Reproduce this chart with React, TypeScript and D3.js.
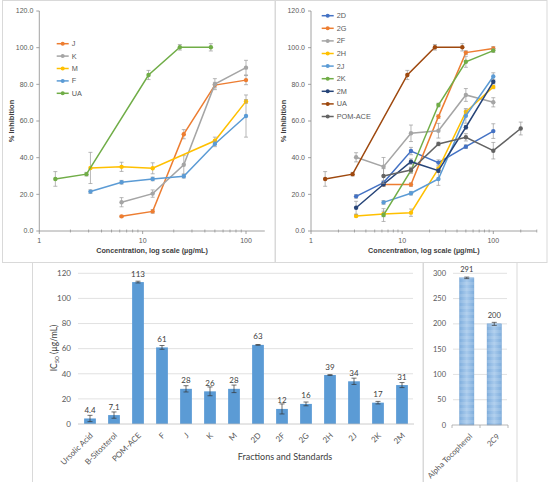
import React from "react";
import * as d3 from "d3";

// ---------- Top charts data ----------
const xUA = [1.43, 2.86, 11.4, 22.9, 45.7];
const yUA = [28.4, 31.0, 85.1, 100.2, 100.2];
const eUA = [4, 1, 2.5, 1.5, 2];

const xJ = [6.25, 12.5, 25, 50, 100];
const yJ = [8.0, 10.7, 52.8, 79.6, 82.3];
const eJ = [0.5, 1, 2.5, 1.5, 2.5];

const xK = [6.25, 12.5, 25, 50, 100];
const yK = [15.7, 20.4, 36.1, 80.1, 89.1];
const eK = [2.5, 2, 5, 3, 4];

const xM = [3.125, 6.25, 12.5, 50, 100];
const yM = [34.4, 35.0, 34.2, 49.2, 70.7];
const eM = [8.5, 2.5, 3, 2, 1];

const xF = [3.125, 6.25, 12.5, 25, 50, 100];
const yF = [21.5, 26.6, 28.4, 29.9, 47.5, 62.7];
const eF = [1, 1, 1, 1, 1.5, 11.5];

const x2D = [3.125, 6.25, 12.5, 25, 50, 100];
const y2D = [18.9, 26.4, 43.6, 37.3, 46.0, 54.5];
const e2D = [1, 1, 2, 1.5, 1, 4];

const x2G = [6.25, 12.5, 25, 50, 100];
const y2G = [25.3, 25.3, 62.4, 97.3, 99.6];
const e2G = [1, 1, 1, 1, 1];

const x2F = [3.125, 6.25, 12.5, 25, 50, 100];
const y2F = [40.2, 35.1, 53.3, 54.7, 74.2, 70.2];
const e2F = [2.5, 5, 4.5, 4, 3.5, 2.5];

const x2H = [3.125, 6.25, 12.5, 25, 50, 100];
const y2H = [8.2, 9.3, 10.0, 34.0, 65.0, 78.6];
const e2H = [0.5, 1.5, 2, 1, 1, 1];

const x2J = [6.25, 12.5, 25, 50, 100];
const y2J = [15.6, 20.6, 28.4, 62.8, 84.3];
const e2J = [1, 1, 3.5, 4, 2];

const x2K = [6.25, 12.5, 25, 50, 100];
const y2K = [8.7, 33.0, 68.7, 92.3, 98.4];
const e2K = [3.5, 1.5, 1, 3, 1];

const x2M = [3.125, 6.25, 12.5, 25, 50, 100];
const y2M = [12.7, 25.5, 37.8, 32.9, 56.6, 81.4];
const e2M = [3.5, 1, 1.5, 1, 1, 1];

const xPOM = [6.25, 12.5, 25, 50, 100, 200];
const yPOM = [30.0, 33.3, 47.5, 51.1, 43.8, 55.9];
const ePOM = [4, 1.5, 1, 2, 4.5, 3.5];

const yTicksLine = [0, 20, 40, 60, 80, 100, 120];
const xTicksLine = [1, 10, 100];

// ---------- Bottom charts data ----------
const barCats = ["Ursolic Acid", "B-Sitosterol", "POM-ACE", "F", "J", "K", "M", "2D", "2F", "2G", "2H", "2J", "2K", "2M"];
const barVals = [4.4, 7.1, 113, 61, 28, 26, 28, 63, 12, 16, 39, 34, 17, 31];
const barErrs = [2.5, 2.5, 0.7, 1.5, 2.5, 3.5, 3, 0.3, 4, 1.5, 0.3, 2.5, 1, 2];
const barLabels = ["4.4", "7.1", "113", "61", "28", "26", "28", "63", "12", "16", "39", "34", "17", "31"];
const barTicks = [0, 20, 40, 60, 80, 100, 120];

const stdCats = ["Alpha Tocopherol", "2C9"];
const stdVals = [291, 200];
const stdErrs = [1.5, 3];
const stdLabels = ["291", "200"];
const stdTicks = [0, 50, 100, 150, 200, 250, 300];

type Series = { name: string; color: string; xs: number[]; ys: number[]; es: number[] };

const leftSeries: Series[] = [
  { name: "J", color: "#ED7D31", xs: xJ, ys: yJ, es: eJ },
  { name: "K", color: "#A5A5A5", xs: xK, ys: yK, es: eK },
  { name: "M", color: "#FFC000", xs: xM, ys: yM, es: eM },
  { name: "F", color: "#5B9BD5", xs: xF, ys: yF, es: eF },
  { name: "UA", color: "#70AD47", xs: xUA, ys: yUA, es: eUA },
];

const rightSeries: Series[] = [
  { name: "2D", color: "#4472C4", xs: x2D, ys: y2D, es: e2D },
  { name: "2G", color: "#ED7D31", xs: x2G, ys: y2G, es: e2G },
  { name: "2F", color: "#A5A5A5", xs: x2F, ys: y2F, es: e2F },
  { name: "2H", color: "#FFC000", xs: x2H, ys: y2H, es: e2H },
  { name: "2J", color: "#5B9BD5", xs: x2J, ys: y2J, es: e2J },
  { name: "2K", color: "#70AD47", xs: x2K, ys: y2K, es: e2K },
  { name: "2M", color: "#264478", xs: x2M, ys: y2M, es: e2M },
  { name: "UA", color: "#9E480E", xs: xUA, ys: yUA, es: eUA },
  { name: "POM-ACE", color: "#636363", xs: xPOM, ys: yPOM, es: ePOM },
];

const AX = "#8C8C8C";
const TXT = "#595959";
const LINEFONT = "'Liberation Sans', Arial, sans-serif";
const BARFONT = "Lato, 'Open Sans', sans-serif";

function LinePanel({ series, xr, xEndVal, legendX, legendY, legendStep, ylabelX }: {
  series: Series[]; xr: [number, number]; xEndVal: number; legendX: number; legendY: number; legendStep: number; ylabelX: number;
}) {
  const x = d3.scaleLog().domain([1, 100]).range(xr);
  const y = d3.scaleLinear().domain([0, 120]).range([231, 11]);
  const xEnd = x(xEndVal);
  const minor: number[] = [];
  [1, 10, 100].forEach((d) => {
    for (let k = 2; k <= 9; k++) if (d * k <= xEndVal) minor.push(d * k);
  });
  const line = d3.line<[number, number]>().x((d) => x(d[0])).y((d) => y(d[1]));
  const cx = (xr[0] + xEnd) / 2;
  return (
    <g fontFamily={LINEFONT}>
      <line x1={xr[0]} x2={xr[0]} y1={y(120)} y2={y(0)} stroke={AX} strokeWidth={0.8} />
      <line x1={xr[0]} x2={xEnd} y1={y(0)} y2={y(0)} stroke={AX} strokeWidth={0.8} />
      {yTicksLine.map((t) => (
        <g key={t}>
          <line x1={xr[0] - 3} x2={xr[0]} y1={y(t)} y2={y(t)} stroke={AX} strokeWidth={0.8} />
          <text x={xr[0] - 6} y={y(t)} dy="0.35em" textAnchor="end" fontSize={7} fill={TXT}>{t.toFixed(1)}</text>
        </g>
      ))}
      {xTicksLine.map((t) => (
        <g key={t}>
          <line x1={x(t)} x2={x(t)} y1={y(0)} y2={y(0) + 3} stroke={AX} strokeWidth={0.8} />
          <text x={x(t)} y={243} textAnchor="middle" fontSize={7} fill={TXT}>{t}</text>
        </g>
      ))}
      {minor.map((t) => (
        <line key={"m" + t} x1={x(t)} x2={x(t)} y1={y(0) - 1.5} y2={y(0) + 1.5} stroke={AX} strokeWidth={0.7} />
      ))}
      <text x={cx} y={253} textAnchor="middle" fontSize={7.2} fontWeight="bold" fill="#404040">Concentration, log scale (µg/mL)</text>
      <text transform={`translate(${ylabelX},121) rotate(-90)`} textAnchor="middle" dy="0.35em" fontSize={7.5} fontWeight="bold" fill="#404040">% Inhibition</text>
      {series.map((s) => {
        const pts = s.xs.map((v, i) => [v, s.ys[i]] as [number, number]);
        return (
          <g key={s.name}>
            {pts.map((p, i) => (
              <g key={i} stroke="#9A9A9A" strokeWidth={0.7}>
                <line x1={x(p[0])} x2={x(p[0])} y1={y(p[1] - s.es[i])} y2={y(p[1] + s.es[i])} />
                <line x1={x(p[0]) - 2} x2={x(p[0]) + 2} y1={y(p[1] - s.es[i])} y2={y(p[1] - s.es[i])} />
                <line x1={x(p[0]) - 2} x2={x(p[0]) + 2} y1={y(p[1] + s.es[i])} y2={y(p[1] + s.es[i])} />
              </g>
            ))}
            <path d={line(pts) || ""} fill="none" stroke={s.color} strokeWidth={1.5} />
            {pts.map((p, i) => (
              <circle key={"c" + i} cx={x(p[0])} cy={y(p[1])} r={2.2} fill={s.color} />
            ))}
          </g>
        );
      })}
      {series.map((s, i) => {
        const ly = legendY + i * legendStep;
        return (
          <g key={"l" + s.name}>
            <line x1={legendX} x2={legendX + 12} y1={ly} y2={ly} stroke={s.color} strokeWidth={1.5} />
            <circle cx={legendX + 6} cy={ly} r={2} fill={s.color} />
            <text x={legendX + 15} y={ly} dy="0.35em" fontSize={7.3} fill={TXT}>{s.name}</text>
          </g>
        );
      })}
    </g>
  );
}

function BarPanel() {
  const x = d3.scaleBand<string>().domain(barCats).range([78, 414]).paddingInner(0.51).paddingOuter(0.255);
  const y = d3.scaleLinear().domain([0, 120]).range([424, 273.3]);
  return (
    <g fontFamily={BARFONT}>
      {barTicks.map((t) => (
        <g key={t}>
          {t > 0 && <line x1={78} x2={413} y1={y(t)} y2={y(t)} stroke="#D9D9D9" strokeWidth={0.8} />}
          <text x={71} y={y(t)} dy="0.35em" textAnchor="end" fontSize={8} fill={TXT}>{t}</text>
        </g>
      ))}
      {barCats.map((c, i) => {
        const bx = x(c) as number;
        const bw = x.bandwidth();
        const cxm = bx + bw / 2;
        const v = barVals[i];
        const e = barErrs[i];
        return (
          <g key={c}>
            <rect x={bx} y={y(v)} width={bw} height={y(0) - y(v)} fill="#5B9BD5" />
            <g stroke="#333" strokeWidth={0.7}>
              <line x1={cxm} x2={cxm} y1={y(v - e)} y2={y(v + e)} />
              <line x1={cxm - 2.5} x2={cxm + 2.5} y1={y(v - e)} y2={y(v - e)} />
              <line x1={cxm - 2.5} x2={cxm + 2.5} y1={y(v + e)} y2={y(v + e)} />
            </g>
            <text x={cxm} y={y(v) - 5.5} textAnchor="middle" fontSize={8} fill="#404040">{barLabels[i]}</text>
            <text transform={`translate(${cxm + 3.5},${436}) rotate(-45)`} textAnchor="end" fontSize={8} fill={TXT}>{c}</text>
          </g>
        );
      })}
      <line x1={78} x2={414} y1={y(0)} y2={y(0)} stroke="#BFBFBF" strokeWidth={0.8} />
      <text x={285} y={460} textAnchor="middle" fontSize={9} fill="#404040">Fractions and Standards</text>
      <text transform={`translate(54,348) rotate(-90)`} textAnchor="middle" dy="0.35em" fontSize={8.5} fill="#404040">
        IC<tspan fontSize={6} dy="2">50</tspan><tspan dy="-2"> (µg/mL)</tspan>
      </text>
    </g>
  );
}

function StdPanel() {
  const x = d3.scaleBand<string>().domain(stdCats).range([453, 508]).paddingInner(0.48).paddingOuter(0.24);
  const y = d3.scaleLinear().domain([0, 300]).range([425, 273.3]);
  return (
    <g fontFamily={BARFONT}>
      <defs>
        <linearGradient id="stdGrad" x1="0" x2="1" y1="0" y2="0">
          <stop offset="0" stopColor="#7FAEDD" />
          <stop offset="0.5" stopColor="#A8CAEC" />
          <stop offset="1" stopColor="#7FAEDD" />
        </linearGradient>
        <pattern id="stdStripe" width="4" height="6" patternUnits="userSpaceOnUse">
          <rect width="4" height="3" fill="#FFFFFF" fillOpacity={0.12} />
        </pattern>
      </defs>
      {stdTicks.map((t) => (
        <g key={t}>
          {t > 0 && <line x1={453} x2={507} y1={y(t)} y2={y(t)} stroke="#D9D9D9" strokeWidth={0.8} />}
          <text x={446} y={y(t)} dy="0.35em" textAnchor="end" fontSize={7.5} fill={TXT}>{t}</text>
        </g>
      ))}
      {stdCats.map((c, i) => {
        const bx = x(c) as number;
        const bw = x.bandwidth();
        const cxm = bx + bw / 2;
        const v = stdVals[i];
        const e = stdErrs[i];
        return (
          <g key={c}>
            <rect x={bx} y={y(v)} width={bw} height={y(0) - y(v)} fill="url(#stdGrad)" stroke="#6E9FD2" strokeWidth={0.5} />
            <rect x={bx} y={y(v)} width={bw} height={y(0) - y(v)} fill="url(#stdStripe)" />
            <g stroke="#333" strokeWidth={0.7}>
              <line x1={cxm} x2={cxm} y1={y(v - e)} y2={y(v + e)} />
              <line x1={cxm - 2.5} x2={cxm + 2.5} y1={y(v - e)} y2={y(v - e)} />
              <line x1={cxm - 2.5} x2={cxm + 2.5} y1={y(v + e)} y2={y(v + e)} />
            </g>
            <text x={cxm} y={y(v) - 5.5} textAnchor="middle" fontSize={7.5} fill="#404040">{stdLabels[i]}</text>
            <text transform={`translate(${cxm + 6},${437}) rotate(-45)`} textAnchor="end" fontSize={7.8} fill={TXT}>{c}</text>
          </g>
        );
      })}
      <line x1={452} x2={508} y1={y(0)} y2={y(0)} stroke="#A6A6A6" strokeWidth={0.8} />
      {[452, 480, 508].map((t) => (
        <line key={t} x1={t} x2={t} y1={y(0)} y2={y(0) + 3} stroke="#A6A6A6" strokeWidth={0.8} />
      ))}
    </g>
  );
}

export default function App() {
  return (
    <div style={{ position: "absolute", left: 0, top: 0, width: 550, height: 482, background: "#fff" }}>
      <svg width={550} height={482} viewBox="0 0 550 482" style={{ display: "block" }}>
        <rect x={0} y={0} width={550} height={482} fill="#fff" />
        <rect x={2.5} y={0.5} width={272.5} height={262} fill="none" stroke="#D9D9D9" strokeWidth={1} />
        <rect x={275.5} y={0.5} width={271.5} height={262} fill="none" stroke="#D9D9D9" strokeWidth={1} />
        <rect x={32.5} y={262.5} width={390.5} height={222} fill="none" stroke="#D9D9D9" strokeWidth={1} />
        <rect x={423.5} y={262.5} width={93.5} height={222} fill="none" stroke="#D9D9D9" strokeWidth={1} />
        <LinePanel series={leftSeries} xr={[39.3, 246]} xEndVal={152} legendX={56.7} legendY={43.7} legendStep={12.4} ylabelX={11} />
        <LinePanel series={rightSeries} xr={[311, 493.3]} xEndVal={300} legendX={321.7} legendY={15.7} legendStep={12.6} ylabelX={283} />
        <BarPanel />
        <StdPanel />
      </svg>
    </div>
  );
}
